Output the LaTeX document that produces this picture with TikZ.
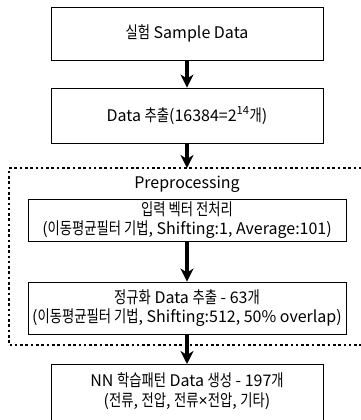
\documentclass[tikz,border=0pt]{standalone}
\usepackage{fontspec}
\setmainfont{Noto Sans CJK KR}
% narrower Hangul face, used for the Korean words
\newfontfamily\hgfont[FakeStretch=0.8,Scale=1.04]{Noto Sans CJK KR}
\newfontfamily\latinfont{Noto Sans}
\newcommand{\kr}[1]{{\hgfont #1}}
\usetikzlibrary{arrows.meta}
\tikzset{
  stepbox/.style={draw=black, line width=0.9pt, align=center, inner sep=0pt,
    font=\fontsize{16}{19.5}\selectfont},
  flow/.style={line width=3.4pt, -{Stealth[length=13pt,width=13pt,inset=4pt]}},
  groupframe/.style={line width=2.6pt, dash pattern=on 2.6pt off 2.7pt},
  plain/.style={font=\fontsize{16}{19.5}\selectfont, inner sep=0pt}
}
\begin{document}
\begin{tikzpicture}[x=1pt,y=-1pt]
\useasboundingbox (0,0) rectangle (361,420);
\clip (0,0) rectangle (361,420);

% preprocessing group frame (open to the right)
\draw[groupframe] (372,168) -- (9,168) -- (9,345) -- (372,345);
\coordinate (frametop) at (187,168);
\node[plain] (pre) at (187,184) {Preprocessing};

% process steps
\node[stepbox, minimum width=272, minimum height=53] (s1) at (187,33.5)
  {\kr{실험} Sample Data};
\node[stepbox, minimum width=272, minimum height=55] (s2) at (187,115.5)
  {Data \kr{추출}(16384=2\textsuperscript{14}\kr{개})};
\node[stepbox, minimum width=318, minimum height=42] (s3) at (187,220)
  {\kr{입력 벡터 전처리}\\(\kr{이동평균필터 기법}, Shifting:1, Average:101)};
\node[stepbox, minimum width=318, minimum height=52] (s4) at (187,308)
  {\kr{정규화} Data \kr{추출} - 63\kr{개}\\(\kr{이동평균필터 기법}, Shifting:512, 50\% overlap)};
\node[stepbox, minimum width=272, minimum height=62, anchor=north] (s5) at (187,364) {};
\node[plain, align=center] (t5) at (187,391)
  {NN \kr{학습패턴} Data \kr{생성} - 197\kr{개}\\(\kr{전류}, \kr{전압}, \kr{전류}{\latinfont ×}\kr{전압}, \kr{기타})};

% connectors
\draw[flow] (s1.south) -- (s2.north);
\draw[flow] (s2.south) -- (frametop);
\draw[flow] (s3.south) -- (s4.north);
\draw[flow] (s4.south) -- (s5.north);
\end{tikzpicture}
\end{document}
